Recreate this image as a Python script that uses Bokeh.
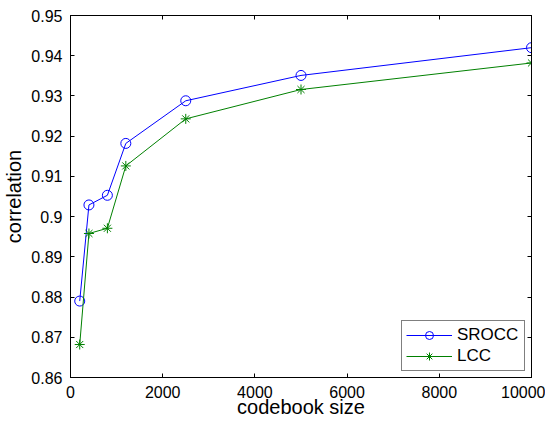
from bokeh.plotting import figure
from bokeh.models import Range1d, LinearAxis, FixedTicker, Legend
from bokeh.embed import file_html
from bokeh.resources import INLINE

# ---- data ----
codebook_size = [200, 400, 800, 1200, 2500, 5000, 10000]
srocc = [0.8790, 0.9029, 0.9053, 0.9182, 0.9288, 0.9351, 0.9420]
lcc = [0.8682, 0.8958, 0.8971, 0.9126, 0.9243, 0.9316, 0.9382]

x_ticks = [0, 2000, 4000, 6000, 8000, 10000]
x_tick_labels = ["0", "2000", "4000", "6000", "8000", "10000"]
y_ticks = [0.86, 0.87, 0.88, 0.89, 0.90, 0.91, 0.92, 0.93, 0.94, 0.95]
y_tick_labels = ["0.86", "0.87", "0.88", "0.89", "0.9", "0.91", "0.92", "0.93", "0.94", "0.95"]

FONT = "Liberation Sans"
BLUE = "#0000ff"
GREEN = "#008000"

p = figure(frame_width=461, frame_height=362,
           x_range=Range1d(0, 10000), y_range=Range1d(0.86, 0.95),
           output_backend="svg", toolbar_location=None,
           min_border_left=67, min_border_right=14,
           min_border_top=15, min_border_bottom=38)

p.background_fill_color = "white"
p.border_fill_color = "white"
p.outline_line_color = "black"
p.outline_line_width = 1
p.xgrid.visible = False
p.ygrid.visible = False

# main axes
xa = p.xaxis[0]
ya = p.yaxis[0]
xa.ticker = FixedTicker(ticks=x_ticks)
xa.major_label_overrides = {t: l for t, l in zip(x_ticks, x_tick_labels)}
ya.ticker = FixedTicker(ticks=y_ticks)
ya.major_label_overrides = {t: l for t, l in zip(y_ticks, y_tick_labels)}
xa.axis_label = "codebook size"
ya.axis_label = "correlation"
for ax in (xa, ya):
    ax.major_tick_in = 4
    ax.major_tick_out = 0
    ax.minor_tick_line_color = None
    ax.axis_line_color = "black"
    ax.major_tick_line_color = "black"
    ax.major_label_text_font = FONT
    ax.major_label_text_font_size = "16px"
    ax.major_label_text_color = "black"
    ax.axis_label_text_font = FONT
    ax.axis_label_text_font_size = "20px"
    ax.axis_label_text_font_style = "normal"
    ax.axis_label_text_color = "black"
xa.major_label_standoff = 8
xa.axis_label_standoff = -5
ya.major_label_standoff = 8
ya.axis_label_standoff = 3

# mirrored axes (ticks only, no labels)
top = LinearAxis(ticker=FixedTicker(ticks=x_ticks))
right = LinearAxis(ticker=FixedTicker(ticks=y_ticks))
for ax in (top, right):
    ax.major_tick_in = 4
    ax.major_tick_out = 0
    ax.minor_tick_line_color = None
    ax.major_label_text_color = None
    ax.major_label_text_font_size = "1px"
    ax.major_label_standoff = 0
    ax.axis_line_color = "black"
p.add_layout(top, "above")
p.add_layout(right, "right")

# series
l1 = p.line(codebook_size, srocc, line_color=BLUE, line_width=1)
m1 = p.scatter(codebook_size, srocc, marker="circle", size=10,
               line_color=BLUE, fill_color=None, line_width=1)
l2 = p.line(codebook_size, lcc, line_color=GREEN, line_width=1)
m2 = p.scatter(codebook_size, lcc, marker="asterisk", size=10,
               line_color=GREEN, line_width=1)

legend = Legend(items=[("SROCC", [l1, m1]), ("LCC", [l2, m2])],
                location="bottom_right")
legend.margin = 6
legend.padding = 4
legend.spacing = 1
legend.label_height = 20
legend.glyph_height = 20
legend.glyph_width = 46
legend.label_width = 63
legend.label_standoff = 5
legend.border_line_color = "black"
legend.border_line_width = 1
legend.background_fill_color = "white"
legend.background_fill_alpha = 1
legend.label_text_font = FONT
legend.label_text_font_size = "17px"
legend.label_text_color = "black"
p.add_layout(legend, "center")

open("out.html", "w").write(file_html(p, INLINE))
